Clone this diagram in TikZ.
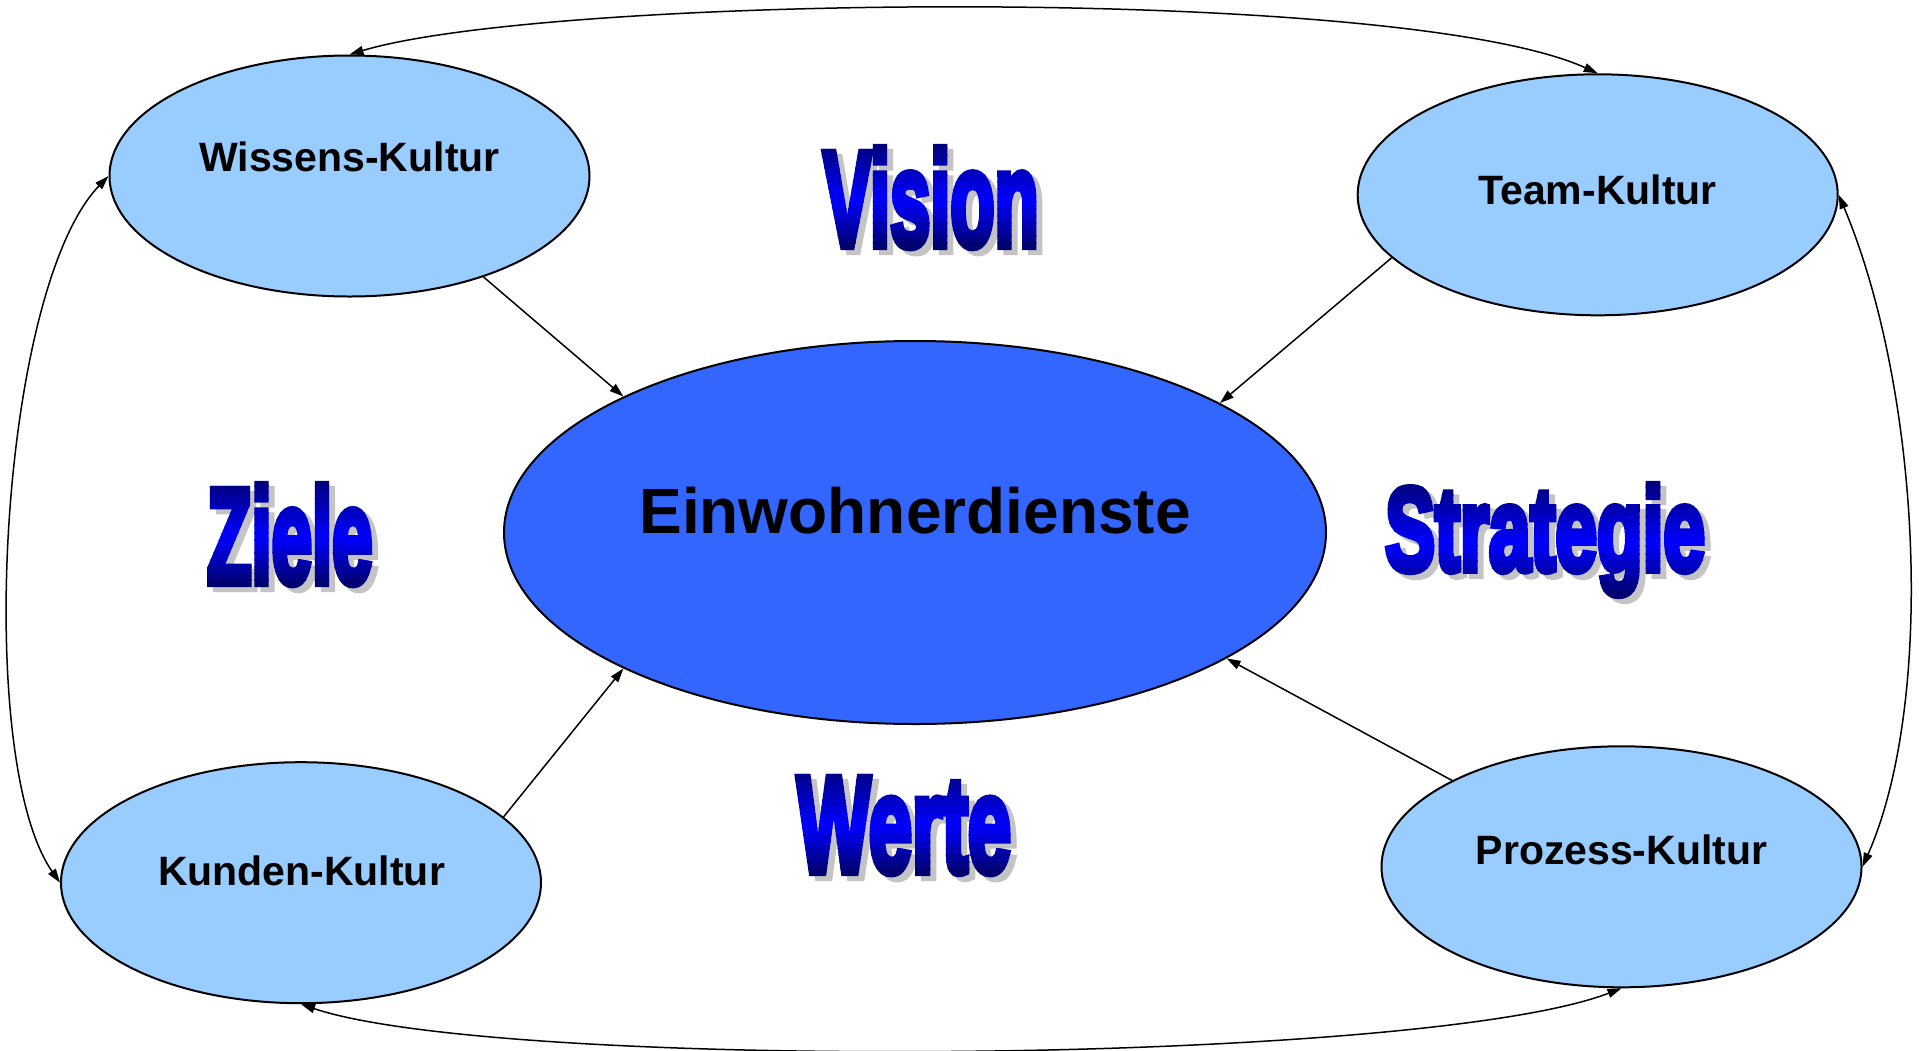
\documentclass[tikz,border=0pt]{standalone}
\usepackage{fontspec}
\setmainfont{Liberation Sans}
\newfontfamily\wafont{Liberation Sans}[UprightFeatures={FakeBold=6}, BoldFeatures={FakeBold=6}]
\usepackage{graphicx}
\usetikzlibrary{shapes.geometric,arrows.meta}
\definecolor{lightblue}{HTML}{99CCFF}
\definecolor{centerblue}{HTML}{3366FF}
\definecolor{shadowgray}{HTML}{C4C4C4}
\tikzset{
  kultur/.style={ellipse, draw=black, line width=2pt, fill=lightblue, minimum width=480pt, minimum height=241pt, inner sep=0pt},
  zentrum/.style={ellipse, draw=black, line width=2pt, fill=centerblue, minimum width=822pt, minimum height=383pt, inner sep=0pt},
  ktext/.style={anchor=base, inner sep=0pt, font=\fontsize{41}{41}\selectfont\bfseries},
  ztext/.style={anchor=base, inner sep=0pt, font=\fontsize{64}{64}\selectfont\bfseries},
  conn/.style={line width=1.5pt, -{Triangle[length=14pt,width=9pt]}},
  bothconn/.style={line width=1.5pt, {Triangle[length=14pt,width=9pt]}-{Triangle[length=14pt,width=9pt]}},
  wa/.style={anchor=base west, inner sep=0pt}
}
% #1 name, #2 x, #3 baseline, #4 top, #5 bottom, #6 font size, #7 xscale, #8 text
\newcommand\wordart[8]{%
  \node[wa, text=shadowgray] (#1-s) at (#2+6, #3+5) {\scalebox{#7}[1]{\wafont\bfseries\fontsize{#6}{#6}\selectfont #8}};
  \foreach \i in {0,...,15}{
    \pgfmathsetmacro\ya{#4+(#5-#4)*\i/16 - (\i==0 ? 14 : 0.4)}
    \pgfmathsetmacro\yb{#4+(#5-#4)*(\i+1)/16 + (\i==15 ? 14 : 0.4)}
    \pgfmathsetmacro\wt{(\i+0.5)/16}
    \pgfmathsetmacro\bv{\wt<0.55 ? 0.45+0.55*\wt/0.55 : 1-0.6*(\wt-0.55)/0.45}
    \definecolor{bandc}{rgb}{0,0,\bv}
    \begin{scope}
      \clip (#2-20,\ya) rectangle (#2+500,\yb);
      \node[wa, text=bandc] (#1-\i) at (#2, #3) {\scalebox{#7}[1]{\wafont\bfseries\fontsize{#6}{#6}\selectfont #8}};
    \end{scope}
  }
}
\begin{document}
\begin{tikzpicture}[x=1pt,y=-1pt]
\fill[white] (0,0) rectangle (1919,1050);
\useasboundingbox (0,0) rectangle (1919,1050);

% ellipses
\node[kultur] (w) at (349.5,176) {};
\node[kultur] (t) at (1597.7,194.8) {};
\node[kultur] (k) at (301,882.7) {};
\node[kultur] (p) at (1621.5,866.8) {};
\node[zentrum] (c) at (915,532.5) {};

% labels
\node[ktext] (wt) at (349.5,171.4) {Wissens-Kultur};
\node[ktext] (tt) at (1597.5,204) {Team-Kultur};
\node[ktext] (kt) at (301.5,885) {Kunden-Kultur};
\node[ktext] (pt) at (1621.5,864) {Prozess-Kultur};
\node[ztext] (ct) at (915,533) {Einwohnerdienste};

% straight arrows
\draw[conn] (w.-37) -- (c.155);
\draw[conn] (t.-163.6) -- (c.23);
\draw[conn] (k.18.5) -- (c.-155.4);
\draw[conn] (p.153.6) -- (c.-22.5);

% curved double arrows
\draw[bothconn] (w.north) .. controls +(200,-60) and +(-198,-89) .. (t.north);
\draw[bothconn] (w.west) .. controls +(-109.5,114) and +(-86,-123) .. (k.west);
\draw[bothconn] (t.east) .. controls +(82,195) and +(73.5,-167) .. (p.east);
\draw[bothconn] (k.south) .. controls +(199,67) and +(-201.5,77) .. (p.south);

% word art
\wordart{vision}{823}{246}{141}{250}{135.3}{0.534}{Vision}
\wordart{ziele}{207}{583}{479}{587}{135.3}{0.536}{Ziele}
\wordart{strategie}{1385}{570.4}{480}{598}{118.6}{0.63}{Strategie}
\wordart{werte}{797}{872}{766}{876}{136.6}{0.567}{Werte}
\end{tikzpicture}
\end{document}
